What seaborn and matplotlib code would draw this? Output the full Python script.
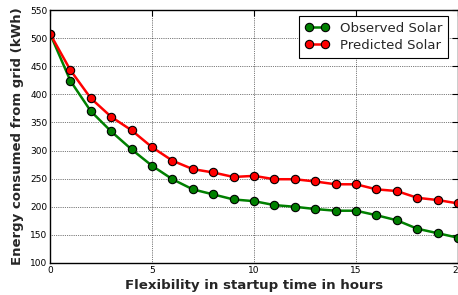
import numpy as np
import pandas as pd
import matplotlib
matplotlib.use("Agg")
import matplotlib.pyplot as plt
import seaborn as sns

hours = list(range(21))
observed = [508, 424, 370, 334, 302, 273, 249, 231, 222, 213, 210, 203, 200, 196, 193, 193, 185, 176, 161, 153, 145]
predicted = [508, 443, 393, 360, 336, 306, 282, 267, 261, 253, 255, 249, 249, 245, 240, 240, 231, 228, 216, 212, 206]

df = pd.DataFrame({
    "hours": hours * 2,
    "energy": observed + predicted,
    "series": ["Observed Solar"] * len(hours) + ["Predicted Solar"] * len(hours),
})

sns.set_style("white")
plt.rcParams["font.family"] = ["DejaVu Sans"]

fig = plt.figure(figsize=(4.58, 2.95), dpi=100)
ax = fig.add_axes([50 / 458, 32 / 295, 408 / 458, 253 / 295])

sns.lineplot(data=df, x="hours", y="energy", hue="series",
             palette={"Observed Solar": "#008000", "Predicted Solar": "#ff0000"},
             marker="o", markersize=6, markeredgecolor="black", markeredgewidth=0.8,
             linewidth=1.8, ax=ax)

ax.set_xlim(0, 20)
ax.set_ylim(100, 550)
ax.set_xticks([0, 5, 10, 15, 20])
ax.set_yticks(range(100, 551, 50))
ax.tick_params(axis="both", labelsize=6.5, length=4, width=0.8, colors="black",
               top=True, right=True, direction="in", pad=2)
ax.grid(True, linestyle=":", color="black", linewidth=0.5)
for s in ax.spines.values():
    s.set_color("black")
    s.set_linewidth(1)

ax.set_xlabel("Flexibility in startup time in hours", fontsize=9.6, fontweight="bold", labelpad=3)
ax.set_ylabel("Energy consumed from grid (kWh)", fontsize=9.5, fontweight="bold", labelpad=4)

leg = ax.legend(loc="upper right", bbox_to_anchor=(0.9755, 0.976), borderaxespad=0,
                fontsize=9.5, frameon=True, fancybox=False,
                edgecolor="black", framealpha=1,
                numpoints=2, handlelength=1.8, handletextpad=0.8,
                borderpad=0.45, labelspacing=0.3)
leg.get_frame().set_linewidth(0.8)

fig.savefig("out.png", dpi=100)
